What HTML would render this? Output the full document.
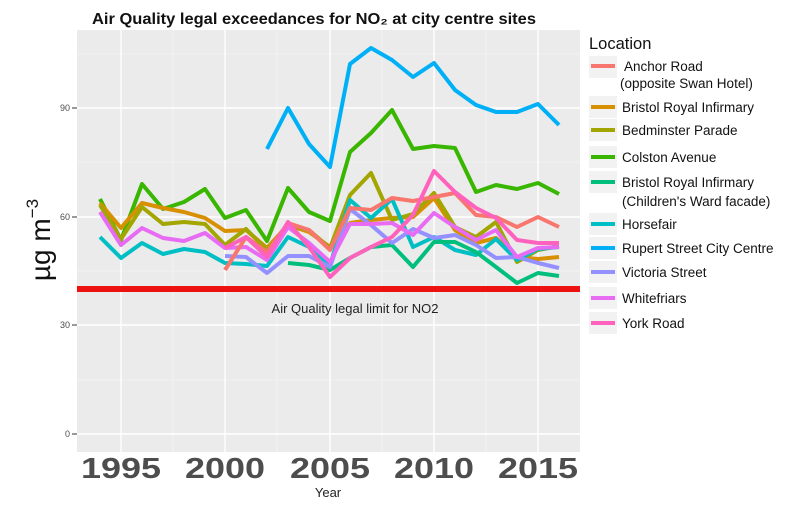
<!DOCTYPE html>
<html><head><meta charset="utf-8"><style>
body{margin:0;background:#fff;}
svg text{font-family:"Liberation Sans",sans-serif;}
</style></head><body>
<svg width="800" height="504" xmlns="http://www.w3.org/2000/svg">
<rect width="800" height="504" fill="#fff"/>
<rect x="77" y="30" width="503" height="422" fill="#ebebeb"/>
<g stroke="#f5f5f5" stroke-width="0.8">
<line x1="77" x2="580" y1="380" y2="380"/><line x1="77" x2="580" y1="271" y2="271"/><line x1="77" x2="580" y1="162" y2="162"/><line x1="77" x2="580" y1="54" y2="54"/>
<line y1="30" y2="452" x1="173" x2="173"/><line y1="30" y2="452" x1="277" x2="277"/><line y1="30" y2="452" x1="382" x2="382"/><line y1="30" y2="452" x1="486" x2="486"/>
</g>
<g stroke="#fff" stroke-width="1.4">
<line x1="77" x2="580" y1="434" y2="434"/><line x1="77" x2="580" y1="325" y2="325"/><line x1="77" x2="580" y1="217" y2="217"/><line x1="77" x2="580" y1="108" y2="108"/>
<line y1="30" y2="452" x1="121" x2="121"/><line y1="30" y2="452" x1="225" x2="225"/><line y1="30" y2="452" x1="330" x2="330"/><line y1="30" y2="452" x1="434" x2="434"/><line y1="30" y2="452" x1="538" x2="538"/>
</g>
<g fill="none" stroke-width="4" stroke-linejoin="round">
<polyline stroke="#00B0F6" points="267,149 288,108 309,144 330,167 350,64 371,48 392,60 413,77 434,63 455,90 476,105 496,112 517,112 538,104 559,125"/>
<polyline stroke="#39B600" points="100,199 121,240 142,184 163,209 184,202 205,189 225,218 246,210 267,241 288,188 309,212 330,221 350,152 371,133 392,110 413,149 434,146 455,148 476,192 496,185 517,189 538,183 559,194"/>
<polyline stroke="#D89000" points="100,203 121,228 142,203 163,208 184,212 205,218 225,231 246,230 267,248 288,225 309,232 330,247 350,223 371,220 392,218 413,217 434,198 455,230 476,243 496,238 517,257 538,259 559,257"/>
<polyline stroke="#A3A500" points="100,205 121,239 142,207 163,224 184,222 205,224 225,245 246,229 267,250 288,225 309,230 330,248 350,195 371,173 392,220 413,214 434,193 455,227 476,237 496,222 517,262 538,250 559,246"/>
<polyline stroke="#00BFC4" points="100,237 121,258 142,243 163,254 184,249 205,252 225,263 246,264 267,266 288,237 309,247 330,265 350,200 371,218 392,199 413,247 434,237 455,250 476,255 496,239 517,260 538,249 559,247"/>
<polyline stroke="#00BF7D" points="288,263 309,265 330,270 350,258 371,247 392,245 413,267 434,242 455,242 476,252 496,267 517,283 538,273 559,276"/>
<polyline stroke="#9590FF" points="225,256 246,257 267,273 288,256 309,256 330,267 350,209 371,225 392,243 413,229 434,238 455,235 476,245 496,258 517,257 538,263 559,268"/>
<polyline stroke="#E76BF3" points="100,212 121,245 142,228 163,238 184,241 205,233 225,248 246,247 267,260 288,227 309,243 330,262 350,224 371,224 392,223 413,235 434,213 455,227 476,240 496,230 517,257 538,248 559,247"/>
<polyline stroke="#F8766D" points="225,270 246,237 267,252 288,223 309,230 330,250 350,208 371,210 392,198 413,201 434,197 455,193 476,215 496,217 517,227 538,217 559,227"/>
<polyline stroke="#FF62BC" points="225,248 246,237 267,257 288,222 309,247 330,277 350,258 371,247 392,237 413,215 434,171 455,192 476,208 496,218 517,240 538,243 559,243"/>
</g>
<rect x="77" y="286" width="503" height="6" fill="#ee1111"/>
<text x="355" y="313" font-size="13" text-anchor="middle" fill="#222">Air Quality legal limit for NO2</text>
<g font-size="9" fill="#4d4d4d" text-anchor="end">
<text x="70" y="437">0</text><text x="70" y="328">30</text><text x="70" y="220">60</text><text x="70" y="111">90</text>
</g>
<g stroke="#333" stroke-width="1"><line x1="72" x2="77" y1="434" y2="434"/><line x1="72" x2="77" y1="325" y2="325"/><line x1="72" x2="77" y1="217" y2="217"/><line x1="72" x2="77" y1="108" y2="108"/></g>
<g font-size="29" font-weight="bold" fill="#4d4d4d">
<text x="81" y="478" textLength="80" lengthAdjust="spacingAndGlyphs">1995</text>
<text x="185" y="478" textLength="80" lengthAdjust="spacingAndGlyphs">2000</text>
<text x="290" y="478" textLength="80" lengthAdjust="spacingAndGlyphs">2005</text>
<text x="394" y="478" textLength="80" lengthAdjust="spacingAndGlyphs">2010</text>
<text x="498" y="478" textLength="80" lengthAdjust="spacingAndGlyphs">2015</text>
</g>
<text x="328" y="497" font-size="13" text-anchor="middle" fill="#222">Year</text>
<text transform="translate(50,240) rotate(-90)" font-size="28" text-anchor="middle" fill="#111">µg m<tspan font-size="17" dy="-12">−3</tspan></text>
<text x="314" y="24" font-size="16" font-weight="bold" text-anchor="middle" fill="#111" textLength="444" lengthAdjust="spacingAndGlyphs">Air Quality legal exceedances for NO₂ at city centre sites</text>
<text x="589" y="49" font-size="16.5" fill="#111">Location</text>
<g font-size="13.5" fill="#111">
<rect x="589" y="56" width="28" height="22" fill="#f2f2f2"/><rect x="591" y="64" width="24" height="4" fill="#F8766D"/>
<text x="624" y="71">Anchor Road</text><text x="620" y="88">(opposite Swan Hotel)</text>
<rect x="589" y="96" width="28" height="22" fill="#f2f2f2"/><rect x="591" y="105" width="24" height="4" fill="#D89000"/><text x="622" y="112">Bristol Royal Infirmary</text>
<rect x="589" y="119" width="28" height="22" fill="#f2f2f2"/><rect x="591" y="128" width="24" height="4" fill="#A3A500"/><text x="622" y="135">Bedminster Parade</text>
<rect x="589" y="146" width="28" height="22" fill="#f2f2f2"/><rect x="591" y="155" width="24" height="4" fill="#39B600"/><text x="622" y="162">Colston Avenue</text>
<rect x="589" y="171" width="28" height="22" fill="#f2f2f2"/><rect x="591" y="180" width="24" height="4" fill="#00BF7D"/><text x="622" y="187">Bristol Royal Infirmary</text><text x="622" y="206">(Children's Ward facade)</text>
<rect x="589" y="213" width="28" height="22" fill="#f2f2f2"/><rect x="591" y="222" width="24" height="4" fill="#00BFC4"/><text x="622" y="229">Horsefair</text>
<rect x="589" y="237" width="28" height="22" fill="#f2f2f2"/><rect x="591" y="246" width="24" height="4" fill="#00B0F6"/><text x="622" y="253">Rupert Street City Centre</text>
<rect x="589" y="261" width="28" height="22" fill="#f2f2f2"/><rect x="591" y="270" width="24" height="4" fill="#9590FF"/><text x="622" y="277">Victoria Street</text>
<rect x="589" y="287" width="28" height="22" fill="#f2f2f2"/><rect x="591" y="296" width="24" height="4" fill="#E76BF3"/><text x="622" y="303">Whitefriars</text>
<rect x="589" y="312" width="28" height="22" fill="#f2f2f2"/><rect x="591" y="321" width="24" height="4" fill="#FF62BC"/><text x="622" y="328">York Road</text>
</g>
</svg>
</body></html>
